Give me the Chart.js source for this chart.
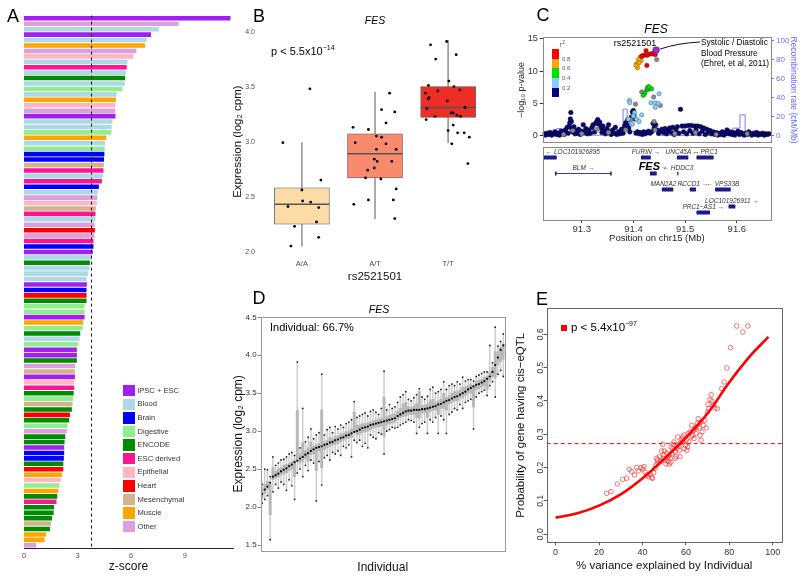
<!DOCTYPE html>
<html lang="en">
<head>
<meta charset="UTF-8">
<title>FES eQTL figure</title>
<script src="https://cdn.jsdelivr.net/npm/chart.js"></script>
<style>
  * { margin: 0; padding: 0; box-sizing: border-box; }
  body { background: #fff; font-family: 'Liberation Sans', Arial, sans-serif; }
  #fig { position: relative; width: 800px; height: 581px; overflow: hidden; }
  canvas { position: absolute; }
  .t { position: absolute; white-space: nowrap; line-height: 1; color: #000; }
  .c { transform: translate(-50%, -50%); }
  .m { transform: translateY(-50%); }
  .letter { font-size: 18px; }
  .it { font-style: italic; }
  .sup { font-size: 7px; position: relative; top: -5px; }
  .sw { position: absolute; }
</style>
</head>
<body>
<div id="fig">
  <canvas id="cA"></canvas>
  <canvas id="cB"></canvas>
  <canvas id="cC"></canvas>
  <canvas id="cG"></canvas>
  <canvas id="cD"></canvas>
  <canvas id="cE"></canvas>

  <!-- panel letters -->
  <div class="t c letter" style="left:13px;top:16px">A</div>
  <div class="t c letter" style="left:259px;top:16px">B</div>
  <div class="t c letter" style="left:543px;top:15px">C</div>
  <div class="t c letter" style="left:259px;top:298px">D</div>
  <div class="t c letter" style="left:542px;top:299px">E</div>

  <!-- B -->
  <div class="t c it" style="left:375px;top:20px;font-size:10.5px">FES</div>
  <div class="t m" style="left:271px;top:51px;font-size:11px">p &lt; 5.5x10<span class="sup">−14</span></div>

  <!-- C -->
  <div class="t c it" style="left:656px;top:29px;font-size:12px">FES</div>
  <div class="t c" style="left:635px;top:43px;font-size:9px">rs2521501</div>
  <div class="t" style="left:701px;top:37px;font-size:8.3px;line-height:10.5px">Systolic / Diastolic<br>Blood Pressure<br>(Ehret, et al, 2011)</div>
  <div id="r2key"></div>

  <!-- D -->
  <div class="t c it" style="left:379px;top:309px;font-size:10.5px">FES</div>
  <div class="t m" style="left:270px;top:327px;font-size:11px">Individual: 66.7%</div>

  <!-- E -->
  <div class="sw" style="left:561px;top:325px;width:6px;height:6px;background:#f00"></div>
  <div class="t m" style="left:571px;top:328px;font-size:11.5px">p &lt; 5.4x10<span class="sup">−97</span></div>

  <div id="legendA"></div>
</div>

<script>
  // ---------------- Panel A: z-score per tissue ----------------
  const groupNames = ['iPSC + ESC', 'Blood', 'Brain', 'Digestive', 'ENCODE', 'ESC derived',
                      'Epithelial', 'Heart', 'Mesenchymal', 'Muscle', 'Other'];
  const groupColors = ['#A020F0', '#ADD8E6', '#0000FF', '#90EE90', '#008B00', '#FF1493',
                       '#FFB6C1', '#FF0000', '#D2B48C', '#FFA500', '#DDA0DD'];
  // tissue group of each bar, top to bottom
  const aGroup = [0, 10, 1, 0, 1, 9, 10, 6, 1, 5,
                  1, 4, 1, 3, 1, 9, 6, 10, 0, 1,
                  1, 3, 9, 1, 3, 2, 2, 8, 5, 1,
                  5, 2, 1, 10, 6, 8, 5, 1, 10, 7,
                  10, 5, 2, 0, 1, 4, 1, 1, 1, 0,
                  2, 7, 4, 3, 3, 0, 9, 3, 4, 1,
                  3, 0, 0, 4, 10, 8, 0, 6, 5, 4,
                  3, 8, 4, 7, 4, 3, 10, 4, 4, 0,
                  2, 2, 4, 7, 9, 6, 3, 9, 4, 5,
                  4, 4, 4, 8, 4, 9, 9, 10];
  const aZ = [11.56, 8.66, 7.54, 7.11, 6.87, 6.78, 6.29, 6.13, 5.79, 5.75,
              5.70, 5.66, 5.64, 5.51, 5.18, 5.14, 5.12, 5.10, 5.12, 4.95,
              4.91, 4.89, 4.60, 4.54, 4.52, 4.50, 4.48, 4.47, 4.45, 4.41,
              4.36, 4.19, 4.13, 4.10, 4.08, 4.02, 4.00, 4.00, 3.95, 3.97,
              3.95, 3.89, 3.89, 3.85, 3.80, 3.69, 3.67, 3.59, 3.52, 3.52,
              3.50, 3.50, 3.50, 3.39, 3.39, 3.39, 3.31, 3.28, 3.15, 3.11,
              3.03, 2.96, 2.96, 2.96, 2.87, 2.85, 2.85, 2.81, 2.81, 2.78,
              2.74, 2.72, 2.68, 2.57, 2.53, 2.42, 2.40, 2.31, 2.27, 2.25,
              2.25, 2.23, 2.20, 2.20, 2.12, 2.06, 1.99, 1.92, 1.86, 1.82,
              1.68, 1.66, 1.57, 1.51, 1.45, 1.23, 1.15, 0.67];
  const aThreshold = 3.78;
  const aTicks = [0, 3, 6, 9];

  // ---------------- Panel B: expression by genotype ----------------
  const bGroups = ['A/A', 'A/T', 'T/T'];
  const bLow = [2.05, 2.30, 2.99];
  const bQ1 = [2.25, 2.67, 3.22];
  const bMed = [2.43, 2.89, 3.31];
  const bQ3 = [2.58, 3.07, 3.50];
  const bHigh = [2.99, 3.45, 3.92];
  const bFill = ['#FDDBA6', '#FA8A6E', '#EE2E24'];
  // [jitter, value] per sample
  const bAA = [[0.11, 3.48], [-0.26, 2.99], [0.26, 2.65], [0, 2.56], [0.01, 2.46], [0.12, 2.45],
               [-0.19, 2.41], [0.23, 2.40], [0.2, 2.27], [-0.1, 2.23], [0.23, 2.13], [-0.15, 2.05]];
  const bAT = [[0.2, 3.44], [0.09, 3.29], [0.27, 3.27], [-0.3, 3.13], [-0.09, 3.11], [0.15, 3.17],
               [-0.27, 2.99], [0.02, 3.05], [0.09, 3.04], [0.15, 2.98], [0.02, 2.93], [0.29, 2.93],
               [-0.01, 2.84], [0.03, 2.82], [0.23, 2.82], [-0.01, 2.76], [-0.1, 2.74], [-0.13, 2.67],
               [0.08, 2.66], [0.29, 2.57], [-0.29, 2.43], [-0.09, 2.47], [0.25, 2.47], [0.27, 2.30]];
  const bTT = [[-0.24, 3.88], [-0.02, 3.91], [-0.17, 3.75], [0.11, 3.79], [-0.27, 3.51], [0.01, 3.55],
               [0.08, 3.50], [-0.31, 3.44], [-0.14, 3.46], [0.16, 3.47], [-0.26, 3.40], [-0.27, 3.39],
               [-0.01, 3.37], [0.23, 3.31], [-0.29, 3.30], [-0.18, 3.23], [0.04, 3.26], [0.07, 3.26],
               [0.12, 3.24], [0.17, 3.23], [-0.3, 3.20], [0.07, 3.15], [0, 3.10], [0.13, 3.08],
               [0.22, 3.08], [0.29, 3.04], [0.05, 2.98], [0.27, 2.80]];

  // ---------------- Panel C: regional association ----------------
  const cMin = 91.2246, cMax = 91.666;
  const cLead = [[91.4438, 13.28]];
  const cRed = [[91.4244, 13.18], [91.432, 12.67], [91.427, 12.47], [91.421, 12.47], [91.416, 12.32],
                [91.439, 12.77], [91.442, 12.57], [91.426, 10.9], [91.436, 12.7]];
  const cOrange = [[91.413, 12.17], [91.415, 11.66], [91.410, 11.81], [91.406, 11.16], [91.411, 11.31],
                   [91.408, 10.55], [91.405, 10.9], [91.417, 12.4]];
  const cGreen = [[91.429, 7.52], [91.426, 7.12], [91.432, 7.27], [91.422, 6.61], [91.419, 6.26],
                  [91.435, 7.27], [91.427, 7.42], [91.430, 7.6]];
  const cLightBlue = [[91.392, 5.5], [91.393, 5.15], [91.402, 3.58], [91.400, 3.07], [91.406, 2.57],
                      [91.411, 2.22], [91.416, 3.23], [91.434, 5.1], [91.442, 5.1], [91.448, 5.0],
                      [91.442, 4.4], [91.4496, 6.5], [91.398, 1.8], [91.390, 2.6]];
  const cGray = [[91.283, 0.8], [91.300, 0.3], [91.330, 1.0], [91.352, 0.5], [91.385, 0.9], [91.404, 4.9],
                 [91.395, 2.5], [91.416, 6.8], [91.439, 6.0], [91.445, 11.8], [91.452, 4.7], [91.440, 2.2],
                 [91.442, 0.9], [91.48, 0.3], [91.52, 0.5], [91.56, 0.2], [91.62, 0.3], [91.265, 0.2]];
  const cNavy = [[91.227, 0.3], [91.230, 0.1], [91.233, 0.4], [91.236, 0.2], [91.239, 0.5], [91.242, 0.1],
                 [91.245, 0.3], [91.248, 0.6], [91.251, 0.2], [91.254, 0.4], [91.257, 0.1], [91.260, 0.7],
                 [91.263, 0.3], [91.266, 0.2], [91.268, 0.9], [91.270, 0.5], [91.272, 1.3], [91.274, 0.4],
                 [91.276, 1.5], [91.277, 2.0], [91.278, 2.6], [91.279, 3.6], [91.280, 2.2], [91.281, 1.1],
                 [91.283, 0.6], [91.285, 1.4], [91.287, 0.3], [91.289, 0.8], [91.291, 0.4], [91.294, 1.0],
                 [91.297, 0.2], [91.300, 0.7], [91.303, 1.7], [91.305, 0.5], [91.308, 1.1], [91.311, 0.3],
                 [91.314, 0.9], [91.317, 0.4], [91.320, 1.3], [91.322, 1.7], [91.325, 0.6], [91.327, 1.9],
                 [91.329, 2.2], [91.331, 2.5], [91.333, 1.8], [91.335, 2.1], [91.337, 1.2], [91.339, 0.5],
                 [91.341, 1.5], [91.343, 0.8], [91.346, 0.3], [91.349, 1.1], [91.352, 1.7], [91.354, 0.6],
                 [91.357, 0.2], [91.360, 0.9], [91.363, 0.4], [91.365, 1.3], [91.368, 0.2], [91.371, 0.6],
                 [91.374, 0.3], [91.377, 1.0], [91.380, 0.4], [91.383, 1.5], [91.385, 2.0], [91.387, 1.7],
                 [91.389, 2.5], [91.391, 1.2], [91.393, 0.6], [91.396, 2.9], [91.398, 3.7], [91.400, 3.9],
                 [91.401, 3.2], [91.403, 2.6], [91.405, 0.4], [91.408, 0.6], [91.411, 0.3], [91.414, 0.5],
                 [91.417, 0.2], [91.420, 0.6], [91.423, 0.3], [91.426, 0.5], [91.429, 0.7], [91.432, 0.4],
                 [91.435, 0.6], [91.438, 1.9], [91.440, 1.2], [91.443, 1.7], [91.446, 0.9], [91.449, 0.4],
                 [91.452, 0.7], [91.455, 1.0], [91.458, 0.5], [91.461, 1.1], [91.464, 0.3], [91.467, 0.8],
                 [91.470, 1.2], [91.473, 0.5], [91.476, 1.3], [91.479, 0.2], [91.482, 0.9], [91.485, 1.4],
                 [91.488, 0.4], [91.491, 4.1], [91.494, 1.5], [91.497, 0.6], [91.500, 1.5], [91.503, 0.3],
                 [91.506, 1.6], [91.509, 0.8], [91.512, 1.6], [91.515, 0.4], [91.518, 1.5], [91.521, 0.9],
                 [91.524, 1.5], [91.527, 0.3], [91.530, 1.4], [91.533, 0.7], [91.536, 1.2], [91.539, 0.2],
                 [91.542, 1.0], [91.545, 0.5], [91.548, 0.8], [91.551, 0.3], [91.554, 0.6], [91.557, 0.2],
                 [91.560, 0.5], [91.563, 0.1], [91.566, 0.4], [91.569, 0.2], [91.572, 0.6], [91.575, 0.1],
                 [91.578, 0.4], [91.581, 0.9], [91.584, 0.3], [91.587, 0.6], [91.590, 0.2], [91.593, 0.5],
                 [91.596, 0.1], [91.599, 0.4], [91.602, 0.7], [91.605, 0.2], [91.608, 0.5], [91.611, 0.3],
                 [91.614, 0.1], [91.617, 0.4], [91.620, 0.2], [91.623, 0.6], [91.626, 0.3], [91.629, 0.1],
                 [91.632, 0.4], [91.635, 0.2], [91.638, 0.5], [91.641, 0.1], [91.644, 0.3], [91.647, 0.2],
                 [91.650, 0.4], [91.653, 0.1], [91.656, 0.3], [91.659, 0.2], [91.662, 0.3]];
  // recombination rate, value holds from each position to the next
  const recPos = [91.2246, 91.2516, 91.262, 91.270, 91.287, 91.380, 91.388, 91.392, 91.445,
                  91.592, 91.606, 91.616, 91.620, 91.666];
  const recRate = [0.5, 7.5, 5.5, 7.5, 0.6, 28, 17, 4.5, 0.4, 8, 22, 4.5, 0.5, 0.5];
  const r2Labels = ['0.8', '0.6', '0.4', '0.2'];
  const r2Colors = ['#FF0000', '#FFA500', '#00E000', '#87CEFA', '#000080'];

  const geneNames = ['LOC101926895', 'BLM', 'FURIN', 'FES', 'UNC45A', 'HDDC3', 'PRC1',
                     'MAN2A2', 'RCCD1', 'VPS33B', 'LOC101926911', 'PRC1−AS1'];
  const geneStart = [91.2258, 91.2484, 91.4147, 91.432, 91.484, 91.485, 91.522, 91.455, 91.509, 91.558, 91.584, 91.522];
  const geneEnd = [91.2516, 91.358, 91.4334, 91.445, 91.506, 91.487, 91.555, 91.477, 91.521, 91.588, 91.597, 91.548];
  const geneRow = [1, 2, 1, 2, 1, 2, 1, 3, 3, 3, 4.05, 4.45];
  const geneStrand = [-1, 1, 1, 1, 1, -1, -1, 1, 1, -1, 1, 1];

  // ---------------- Panel D: per-individual expression ----------------
  const dMed = [2.17, 2.23, 2.27, 2.32, 2.40, 2.42, 2.44, 2.47, 2.49, 2.51,
                2.54, 2.56, 2.59, 2.61, 2.64, 2.66, 2.69, 2.71, 2.74, 2.76,
                2.78, 2.79, 2.80, 2.82, 2.83, 2.85, 2.86, 2.88, 2.89, 2.91,
                2.92, 2.94, 2.95, 2.97, 2.99, 3.00, 3.02, 3.04, 3.05, 3.06,
                3.08, 3.09, 3.10, 3.11, 3.12, 3.13, 3.14, 3.15, 3.16, 3.17,
                3.20, 3.22, 3.24, 3.26, 3.27, 3.27, 3.28, 3.28, 3.28, 3.29,
                3.29, 3.30, 3.31, 3.32, 3.33, 3.35, 3.36, 3.38, 3.40, 3.41,
                3.43, 3.45, 3.46, 3.48, 3.50, 3.52, 3.55, 3.57, 3.59, 3.61,
                3.62, 3.64, 3.66, 3.69, 3.72, 3.78, 3.87, 3.97, 4.07, 4.13];
  const dQ1 = [2.12, 2.18, 2.24, 1.90, 2.36, 2.38, 2.40, 2.42, 2.44, 2.45,
               2.48, 2.50, 2.40, 2.62, 2.58, 2.60, 2.64, 2.60, 2.69, 2.70,
               2.48, 2.74, 2.52, 2.76, 2.78, 2.80, 2.82, 2.83, 2.84, 2.86,
               2.88, 2.90, 2.90, 2.92, 3.00, 2.95, 2.96, 2.98, 2.99, 3.00,
               3.02, 3.04, 3.05, 3.06, 3.07, 2.93, 3.09, 3.10, 3.11, 3.12,
               3.15, 3.18, 3.19, 3.20, 3.22, 3.22, 3.22, 3.18, 3.17, 3.24,
               3.24, 3.18, 3.26, 3.27, 3.28, 3.22, 3.30, 3.30, 3.28, 3.36,
               3.38, 3.40, 3.40, 3.43, 3.44, 3.47, 3.50, 3.50, 3.32, 3.55,
               3.56, 3.58, 3.60, 3.55, 3.66, 3.72, 3.70, 3.88, 3.92, 3.95];
  const dQ3 = [2.24, 2.30, 2.34, 2.30, 2.52, 2.47, 2.50, 2.52, 2.55, 2.56,
               2.58, 2.60, 2.62, 3.27, 2.70, 2.85, 2.74, 2.78, 2.86, 2.80,
               2.82, 2.84, 3.28, 2.86, 2.88, 2.92, 2.90, 2.93, 2.94, 2.96,
               2.97, 2.99, 3.00, 3.03, 3.25, 3.08, 3.08, 3.10, 3.10, 3.11,
               3.12, 3.14, 3.15, 3.16, 3.17, 3.45, 3.19, 3.21, 3.22, 3.23,
               3.26, 3.30, 3.36, 3.38, 3.32, 3.31, 3.33, 3.36, 3.52, 3.34,
               3.34, 3.36, 3.40, 3.42, 3.38, 3.40, 3.42, 3.50, 3.44, 3.47,
               3.50, 3.52, 3.52, 3.54, 3.58, 3.58, 3.60, 3.62, 3.60, 3.66,
               3.67, 3.68, 3.71, 3.72, 3.78, 3.84, 4.05, 4.05, 4.10, 4.15];
  const dLo = [2.05, 2.10, 2.15, 1.57, 2.20, 2.30, 2.25, 2.33, 2.30, 2.22,
               2.36, 2.28, 2.10, 2.45, 2.50, 2.40, 2.55, 2.48, 2.62, 2.58,
               2.08, 2.60, 2.29, 2.65, 2.68, 2.62, 2.72, 2.70, 2.74, 2.68,
               2.80, 2.78, 2.82, 2.66, 2.88, 2.85, 2.88, 2.80, 2.84, 2.78,
               2.95, 2.92, 2.90, 2.98, 2.96, 2.70, 3.00, 3.02, 3.05, 3.04,
               3.05, 3.08, 3.10, 3.12, 3.15, 3.14, 3.12, 2.97, 3.05, 3.10,
               3.12, 2.97, 3.15, 3.12, 3.18, 2.97, 3.20, 3.15, 2.97, 3.22,
               3.25, 3.30, 3.28, 3.35, 3.30, 3.38, 3.40, 3.42, 3.03, 3.45,
               3.50, 3.52, 3.54, 3.47, 3.60, 3.65, 3.45, 3.75, 3.80, 3.72];
  const dHi = [2.30, 2.50, 2.49, 2.40, 2.66, 2.55, 2.58, 2.62, 2.63, 2.66,
               2.70, 2.72, 2.68, 3.91, 2.78, 3.30, 2.86, 2.92, 3.03, 2.90,
               2.95, 2.98, 3.75, 2.95, 3.02, 3.05, 2.98, 3.06, 3.03, 3.08,
               3.05, 3.10, 3.12, 3.15, 3.39, 3.18, 3.20, 3.22, 3.24, 3.20,
               3.26, 3.28, 3.25, 3.22, 3.30, 3.79, 3.28, 3.35, 3.30, 3.32,
               3.38, 3.45, 3.48, 3.52, 3.42, 3.40, 3.44, 3.48, 3.56, 3.45,
               3.42, 3.46, 3.55, 3.58, 3.50, 3.52, 3.55, 3.65, 3.55, 3.60,
               3.62, 3.60, 3.65, 3.62, 3.71, 3.66, 3.68, 3.68, 3.66, 3.72,
               3.74, 3.76, 3.78, 3.78, 4.13, 3.90, 4.37, 4.12, 4.18, 4.28];

  // ---------------- Panel E: variance explained vs cis-eQTL ----------------
  const eFitX = [0, 10, 20, 30, 40, 50, 60, 70, 80, 90, 98];
  const eFitY = [0.05, 0.063, 0.086, 0.12, 0.168, 0.226, 0.29, 0.363, 0.456, 0.538, 0.592];
  const eCutoff = 0.272;
  const ePoints = [[23.5, 0.123], [25.5, 0.128], [28.4, 0.151], [30.9, 0.165], [32.7, 0.168], [33.9, 0.195],
                   [35, 0.188], [36.3, 0.178], [37.3, 0.2], [38.1, 0.19], [39.2, 0.2], [40.1, 0.196],
                   [41.2, 0.186], [41.9, 0.178], [42.7, 0.173], [43.5, 0.18], [44.2, 0.17], [44.7, 0.168],
                   [40.7, 0.203], [45.8, 0.198], [46.2, 0.208], [46.9, 0.223], [47.8, 0.233], [48.4, 0.218],
                   [48.8, 0.25], [49.3, 0.27], [49.9, 0.238], [50.4, 0.223], [50.8, 0.211], [51.5, 0.23],
                   [51.9, 0.218], [52.4, 0.21], [52.7, 0.228], [53, 0.216], [53.5, 0.243], [53.9, 0.257],
                   [54.2, 0.27], [54.5, 0.277], [55, 0.248], [55.5, 0.233], [55.8, 0.257], [56.2, 0.292],
                   [56.5, 0.27], [57, 0.252], [57.3, 0.233], [57.8, 0.277], [58.2, 0.285], [58.8, 0.277],
                   [59.3, 0.257], [59.8, 0.267], [60.1, 0.282], [60.4, 0.252], [60.8, 0.262], [61.4, 0.277],
                   [61.9, 0.307], [62.4, 0.292], [62.7, 0.327], [63.1, 0.297], [63.7, 0.287], [64.2, 0.317],
                   [64.7, 0.302], [65.3, 0.332], [65.7, 0.347], [66.2, 0.319], [66.5, 0.297], [67, 0.282],
                   [67.4, 0.307], [68, 0.327], [68.7, 0.342], [69.3, 0.319], [69.9, 0.367], [70.5, 0.377],
                   [71.1, 0.404], [71.7, 0.419], [72.7, 0.387], [73.4, 0.379], [74.5, 0.377], [76.5, 0.437],
                   [77.6, 0.457], [78.8, 0.499], [80.6, 0.56], [83.4, 0.625], [86.2, 0.607], [88.5, 0.625],
                   [46.5, 0.228], [49.6, 0.228], [51.2, 0.243], [52.1, 0.236], [55, 0.228], [58.5, 0.292],
                   [61.1, 0.302], [63.4, 0.31], [65, 0.322], [66.8, 0.336], [70.2, 0.39], [72, 0.4],
                   [45.2, 0.185], [47.1, 0.213], [50.1, 0.25], [53.2, 0.262], [56.9, 0.265], [59.1, 0.298]];

  // ---------------- shared setup ----------------
  Chart.defaults.font.family = "'Liberation Sans', Arial, sans-serif";
  Chart.defaults.font.size = 9;
  Chart.defaults.color = '#333';
  Chart.defaults.animation = false;
  Chart.defaults.events = [];
  Chart.defaults.layout.autoPadding = false;
  Chart.defaults.plugins.legend.display = false;
  Chart.defaults.plugins.tooltip.enabled = false;

  function place(id, left, top, width, height) {
    const c = document.getElementById(id);
    c.width = width; c.height = height;
    c.style.left = left + 'px'; c.style.top = top + 'px';
    return c;
  }
  const toXY = arr => arr.map(p => ({ x: p[0], y: p[1] }));
  const noGrid = { display: false, drawTicks: false };

  // reference lines, frames and rotated y labels
  const extras = {
    id: 'extras',
    afterDatasetsDraw(chart, args, o) {
      const ctx = chart.ctx, a = chart.chartArea;
      ctx.save();
      (o.vlines || []).forEach(l => {
        const x = chart.scales.x.getPixelForValue(l.value);
        ctx.strokeStyle = l.color; ctx.lineWidth = l.width || 1; ctx.setLineDash(l.dash || []);
        ctx.beginPath(); ctx.moveTo(x, a.top); ctx.lineTo(x, a.bottom); ctx.stroke();
      });
      (o.hlines || []).forEach(l => {
        const y = chart.scales.y.getPixelForValue(l.value);
        ctx.strokeStyle = l.color; ctx.lineWidth = l.width || 1; ctx.setLineDash(l.dash || []);
        ctx.beginPath(); ctx.moveTo(a.left, y); ctx.lineTo(a.right, y); ctx.stroke();
      });
      ctx.restore();
    },
    afterDraw(chart, args, o) {
      const ctx = chart.ctx, a = chart.chartArea;
      ctx.save();
      if (o.frame) {
        ctx.strokeStyle = o.frame; ctx.lineWidth = 1;
        ctx.strokeRect(Math.round(a.left) + 0.5, Math.round(a.top) + 0.5,
                       Math.round(a.width), Math.round(a.height));
      }
      if (o.rotY) {
        const ys = chart.scales.y;
        ctx.fillStyle = '#333';
        ctx.font = "8.5px 'Liberation Sans', Arial, sans-serif";
        ys.ticks.forEach(t => {
          ctx.save();
          ctx.translate(a.left - o.rotY, ys.getPixelForValue(t.value));
          ctx.rotate(-Math.PI / 2);
          ctx.textAlign = 'center'; ctx.textBaseline = 'bottom';
          ctx.fillText(t.value.toFixed(1), 0, 0);
          ctx.restore();
        });
      }
      if (o.connector) {
        // leader line from the lead SNP to its GWAS label
        const x = chart.scales.x.getPixelForValue(cLead[0][0]);
        const y = chart.scales.y.getPixelForValue(cLead[0][1]);
        ctx.strokeStyle = '#111'; ctx.lineWidth = 1;
        ctx.beginPath();
        ctx.moveTo(x + 4, y - 1);
        ctx.quadraticCurveTo(x + 22, y - 7, o.connector[0], o.connector[1]);
        ctx.stroke();
      }
      ctx.restore();
    }
  };
  Chart.register(extras);

  // ---------------- Panel A chart ----------------
  new Chart(place('cA', 0, 8, 240, 568), {
    type: 'bar',
    data: {
      labels: aZ.map((_, i) => groupNames[aGroup[i]] + ' ' + (i + 1)),
      datasets: [{
        data: aZ,
        backgroundColor: aGroup.map(g => groupColors[g]),
        borderWidth: 0,
        barPercentage: 0.84,
        categoryPercentage: 1
      }]
    },
    options: {
      responsive: false,
      indexAxis: 'y',
      layout: { padding: { left: 24, right: 7, top: 7.6, bottom: 2 } },
      scales: {
        y: { display: false },
        x: {
          min: 0, max: 11.7,
          grid: noGrid,
          border: { display: true, color: '#222', width: 1 },
          ticks: { stepSize: 3, includeBounds: false, color: '#555', font: { size: 7.5 }, padding: 3,
                   callback: v => aTicks.includes(v) ? String(v) : '' },
          title: { display: true, text: 'z-score', font: { size: 12 }, color: '#111', padding: 0 },
          afterFit: s => { s.height = 26; }
        }
      },
      plugins: { extras: { vlines: [{ value: aThreshold, color: '#111', dash: [3, 3], width: 1 }] } }
    }
  });

  // legend of panel A
  const legA = document.getElementById('legendA');
  groupNames.forEach((name, i) => {
    const cy = 390.7 + i * 13.6;
    legA.insertAdjacentHTML('beforeend',
      `<div class="sw" style="left:123px;top:${cy - 5.8}px;width:12px;height:11.6px;background:${groupColors[i]}"></div>` +
      `<div class="t m" style="left:137.5px;top:${cy}px;font-size:7.6px;color:#333">${name}</div>`);
  });

  // ---------------- Panel B chart ----------------
  const jitter = (pts, g) => pts.map(p => ({ x: g + 1 + p[0], y: p[1] }));
  new Chart(place('cB', 228, 20, 270, 266), {
    type: 'bar',
    data: {
      datasets: [
        { type: 'scatter', data: [...jitter(bAA, 0), ...jitter(bAT, 1), ...jitter(bTT, 2)],
          backgroundColor: '#000', borderWidth: 0, pointRadius: 1.4 },
        { type: 'scatter', data: bMed.map((m, i) => ({ x: i + 1, y: m })),
          pointStyle: 'line', pointRadius: 27.5, borderColor: '#555', borderWidth: 1.4 },
        { data: bQ1.map((q, i) => ({ x: i + 1, y: [q, bQ3[i]] })),
          backgroundColor: bFill, borderColor: '#5a5a5a', borderWidth: 0.8, borderSkipped: false,
          barThickness: 55, grouped: false },
        { data: bLow.map((l, i) => ({ x: i + 1, y: [l, bHigh[i]] })),
          backgroundColor: '#9a9a9a', borderWidth: 0, barThickness: 1, grouped: false }
      ]
    },
    options: {
      responsive: false,
      layout: { padding: { left: 3, right: 6, top: 6, bottom: 2 } },
      scales: {
        x: {
          type: 'linear', min: 0.4, max: 3.6, offset: false,
          grid: noGrid, border: { display: false },
          ticks: { stepSize: 1, includeBounds: false, color: '#4d4d4d', font: { size: 7.5 }, padding: 3,
                   callback: v => bGroups[Math.round(v) - 1] || '' },
          title: { display: true, text: 'rs2521501', font: { size: 11.5 }, color: '#111', padding: 0 },
          afterFit: s => { s.height = 28; }
        },
        y: {
          min: 1.96, max: 4.04,
          grid: noGrid, border: { display: false },
          ticks: { stepSize: 0.5, includeBounds: false, color: '#4d4d4d', font: { size: 7 }, padding: 3,
                   callback: v => v.toFixed(1) },
          title: { display: true, text: 'Expression (log₂ cpm)', font: { size: 11.5 }, color: '#111', padding: 0 },
          afterFit: s => { s.width = 27; }
        }
      }
    }
  });

  // ---------------- Panel C: association chart ----------------
  const snp = (data, fill, edge, r) => ({ data: toXY(data), backgroundColor: fill, borderColor: edge,
                                          borderWidth: 0.5, pointRadius: r });
  new Chart(place('cC', 510, 30, 290, 120), {
    type: 'scatter',
    data: {
      datasets: [
        snp(cLead, '#9B30C8', '#4a1466', 3.4),
        snp(cRed, '#F00000', '#700000', 2.2),
        snp(cOrange, '#FFA500', '#8a5a00', 2.2),
        snp(cGreen, '#00E000', '#006000', 2.2),
        snp(cLightBlue, '#87CEFA', '#3a6a8a', 2.2),
        snp(cGray, '#8a8a8a', '#555', 2.2),
        snp(cNavy, '#0a0a6e', '#00003a', 2.3),
        { type: 'line', data: recPos.map((x, i) => ({ x, y: recRate[i] })), yAxisID: 'y2',
          borderColor: '#7b7bff', borderWidth: 1, pointRadius: 0, stepped: true }
      ]
    },
    options: {
      responsive: false,
      layout: { padding: { left: 5.7, right: 2, top: 6.7, bottom: 6 } },
      scales: {
        x: { type: 'linear', display: false, min: cMin, max: cMax },
        y: {
          min: -1.06, max: 15.24, position: 'left',
          grid: { display: true, drawOnChartArea: false, drawTicks: true, tickLength: 3, color: '#333' },
          border: { display: false },
          ticks: { stepSize: 5, includeBounds: false, color: '#333', font: { size: 9 }, padding: 2 },
          title: { display: true, text: '−log₁₀ p-value', font: { size: 9 }, color: '#222', padding: 0 },
          afterFit: s => { s.width = 27; }
        },
        y2: {
          min: -7.2, max: 103.4, position: 'right',
          grid: { display: true, drawOnChartArea: false, drawTicks: true, tickLength: 3, color: '#6b6bff' },
          border: { display: false },
          ticks: { stepSize: 20, includeBounds: false, color: '#6b6bff', font: { size: 8 }, padding: 2 },
          title: { display: true, text: 'Recombination rate (cM/Mb)', font: { size: 8.5 }, color: '#6b6bff', padding: 0 },
          afterFit: s => { s.width = 27; }
        }
      },
      plugins: { extras: { frame: '#8a8a8a', connector: [190, 12] } }
    }
  });

  // r² colour key
  const r2 = document.getElementById('r2key');
  r2Colors.forEach((col, i) => {
    r2.insertAdjacentHTML('beforeend',
      `<div class="sw" style="left:551.5px;top:${49 + i * 9.66}px;width:7px;height:9.7px;background:${col}"></div>`);
  });
  r2Labels.forEach((lab, i) => {
    r2.insertAdjacentHTML('beforeend',
      `<div class="t m" style="left:562px;top:${58.7 + i * 9.66}px;font-size:6px;color:#555">${lab}</div>`);
  });
  r2.insertAdjacentHTML('beforeend',
    '<div class="t m" style="left:560px;top:45px;font-size:6.5px;color:#555">r<span style="font-size:5px;position:relative;top:-3px">2</span></div>');

  // ---------------- Panel C: gene track ----------------
  const geneTrack = {
    id: 'geneTrack',
    afterDatasetsDraw(chart) {
      const ctx = chart.ctx, xs = chart.scales.x, ys = chart.scales.y, a = chart.chartArea;
      ctx.save();
      geneNames.forEach((name, i) => {
        const x0 = xs.getPixelForValue(geneStart[i]), x1 = xs.getPixelForValue(geneEnd[i]);
        const y = Math.round(ys.getPixelForValue(geneRow[i]));
        ctx.strokeStyle = '#3b3bb5'; ctx.fillStyle = '#1a1a8c'; ctx.lineWidth = 1;
        ctx.beginPath(); ctx.moveTo(x0, y + 0.5); ctx.lineTo(x1, y + 0.5); ctx.stroke();
        if (x1 - x0 < 20) {
          ctx.fillRect(x0, y - 1.5, x1 - x0, 4);
        } else {
          ctx.fillRect(x0, y - 1.5, 1.5, 4);
          ctx.fillRect(x1 - 1.5, y - 1.5, 1.5, 4);
        }
        const fes = name === 'FES';
        const main = fes ? 'FES' : (geneStrand[i] > 0 ? name + ' →' : '← ' + name);
        ctx.font = fes ? "italic bold 11px 'Liberation Sans', Arial, sans-serif"
                       : "italic 6.5px 'Liberation Sans', Arial, sans-serif";
        const w = ctx.measureText(main).width + (fes ? 8 : 0);
        let cx = (x0 + x1) / 2;
        cx = Math.max(a.left + 3 + w / 2, Math.min(a.right - 3 - w / 2, cx));
        ctx.fillStyle = fes ? '#000' : '#333';
        ctx.textAlign = 'left'; ctx.textBaseline = 'alphabetic';
        ctx.fillText(main, cx - w / 2, y - 3);
        if (fes) {
          ctx.font = "6.5px 'Liberation Sans', Arial, sans-serif";
          ctx.fillStyle = '#333';
          ctx.fillText('→', cx + w / 2 - 7, y - 4);
        }
      });
      ctx.restore();
    }
  };
  new Chart(place('cG', 510, 140, 290, 106), {
    type: 'scatter',
    data: { datasets: [{ data: [] }] },
    options: {
      responsive: false,
      layout: { padding: { left: 32.7, right: 29, top: 6.7, bottom: 2 } },
      scales: {
        y: { display: false, min: 0.35, max: 4.95, reverse: true },
        x: {
          type: 'linear', min: cMin, max: cMax,
          grid: { display: true, drawOnChartArea: false, drawTicks: true, tickLength: 3, color: '#333' },
          border: { display: false },
          ticks: { stepSize: 0.1, includeBounds: false, color: '#333', font: { size: 9.5 }, padding: 1,
                   callback: v => v.toFixed(1) },
          title: { display: true, text: 'Position on chr15 (Mb)', font: { size: 9.5 }, color: '#222', padding: 0 },
          afterFit: s => { s.height = 24; }
        }
      },
      plugins: { extras: { frame: '#8a8a8a' } }
    },
    plugins: [geneTrack]
  });

  // ---------------- Panel D chart ----------------
  new Chart(place('cD', 228, 310, 282, 267), {
    type: 'bar',
    data: {
      datasets: [
        { type: 'scatter', data: dMed.map((m, i) => ({ x: i + 1, y: m })),
          backgroundColor: '#000', borderWidth: 0, pointRadius: 1.1 },
        { type: 'scatter', data: [...dLo.map((v, i) => ({ x: i + 1, y: v })), ...dHi.map((v, i) => ({ x: i + 1, y: v }))],
          backgroundColor: '#222', borderWidth: 0, pointRadius: 0.9 },
        { data: dQ1.map((q, i) => ({ x: i + 1, y: [q, dQ3[i]] })),
          backgroundColor: '#b8b8b8', borderWidth: 0, barThickness: 2.3, grouped: false },
        { data: dLo.map((l, i) => ({ x: i + 1, y: [l, dHi[i]] })),
          backgroundColor: '#cdcdcd', borderWidth: 0, barThickness: 0.8, grouped: false }
      ]
    },
    options: {
      responsive: false,
      layout: { padding: { left: 3, right: 5.3, top: 6.7, bottom: 2 } },
      scales: {
        x: {
          type: 'linear', min: 0.5, max: dMed.length + 0.5, offset: false,
          grid: noGrid, border: { display: false },
          ticks: { display: false },
          title: { display: true, text: 'Individual', font: { size: 12 }, color: '#111', padding: 0 },
          afterFit: s => { s.height = 24; }
        },
        y: {
          min: 1.421, max: 4.508,
          grid: { display: true, drawOnChartArea: false, drawTicks: true, tickLength: 3, color: '#888' },
          border: { display: false },
          ticks: { stepSize: 0.5, includeBounds: false, color: '#333', font: { size: 8 }, padding: 1,
                   callback: v => v.toFixed(1) },
          title: { display: true, text: 'Expression (log₂ cpm)', font: { size: 12 }, color: '#111', padding: 0 },
          afterFit: s => { s.width = 29.7; }
        }
      },
      plugins: { extras: { frame: '#9a9a9a' } }
    }
  });

  // ---------------- Panel E chart ----------------
  new Chart(place('cE', 512, 302, 288, 273), {
    type: 'scatter',
    data: {
      datasets: [
        { type: 'line', data: eFitX.map((x, i) => ({ x, y: eFitY[i] })),
          borderColor: '#FF0000', borderWidth: 2.6, pointRadius: 0, tension: 0.4, fill: false },
        { data: toXY(ePoints), backgroundColor: 'rgba(0,0,0,0)', borderColor: 'rgba(240,40,40,0.8)',
          borderWidth: 0.8, pointRadius: 2.3 }
      ]
    },
    options: {
      responsive: false,
      layout: { padding: { left: 2, right: 18.3, top: 6.3, bottom: 2 } },
      scales: {
        x: {
          min: -4.1, max: 104.1,
          grid: { display: true, drawOnChartArea: false, drawTicks: true, tickLength: 3, color: '#555' },
          border: { display: false },
          ticks: { stepSize: 20, includeBounds: false, color: '#333', font: { size: 9 }, padding: 2 },
          title: { display: true, text: '% variance explained by Individual', font: { size: 11.5 }, color: '#111', padding: 0 },
          afterFit: s => { s.height = 30.7; }
        },
        y: {
          min: -0.024, max: 0.678,
          grid: { display: true, drawOnChartArea: false, drawTicks: true, tickLength: 3, color: '#555' },
          border: { display: false },
          ticks: { display: false, stepSize: 0.1, includeBounds: false },
          title: { display: true, text: 'Probability of gene having cis−eQTL', font: { size: 11.5 }, color: '#111', padding: 0 },
          afterFit: s => { s.width = 32.7; }
        }
      },
      plugins: { extras: { frame: '#666', rotY: 2, hlines: [{ value: eCutoff, color: '#FF0000', dash: [4, 3], width: 1 }] } }
    }
  });
</script>
</body>
</html>
